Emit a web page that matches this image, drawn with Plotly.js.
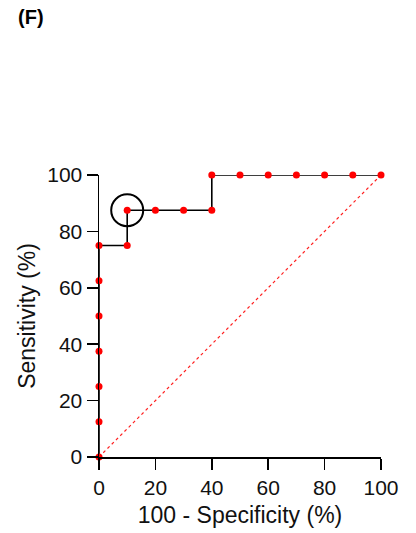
<!DOCTYPE html>
<html>
<head>
<meta charset="utf-8">
<script src="https://cdn.plot.ly/plotly-3.0.1.min.js"></script>
<style>html,body{margin:0;padding:0;background:#fff;}#chart{width:416px;height:533px;}</style>
</head>
<body>
<div id="chart"></div>
<script>
const specificity100 = [0, 0, 0, 0, 0, 0, 0, 10, 10, 20, 30, 40, 40, 50, 60, 70, 80, 90, 100];
const sensitivity = [0, 12.5, 25, 37.5, 50, 62.5, 75, 75, 87.5, 87.5, 87.5, 87.5, 100, 100, 100, 100, 100, 100, 100];
const diagX = [0, 100];
const diagY = [0, 100];
const tickVals = [0, 20, 40, 60, 80, 100];
const highlight = {x: 10, y: 87.5};

const traces = [
  {x: diagX, y: diagY, mode: 'lines', line: {color: '#ff2020', width: 1.2, dash: 'dot'}, hoverinfo: 'skip', cliponaxis: false},
  {x: specificity100, y: sensitivity, mode: 'lines+markers', line: {color: '#000000', width: 1.6},
   marker: {color: '#ff0000', size: 7}, cliponaxis: false}
];

const fam = 'Arial, Liberation Sans, sans-serif';
const tickFont = {family: fam, size: 21, color: '#111'};
const titleFont = {family: fam, size: 23, color: '#111'};
const layout = {
  width: 416, height: 533,
  margin: {l: 99, r: 35, t: 175, b: 76},
  paper_bgcolor: '#fff', plot_bgcolor: '#fff',
  showlegend: false,
  font: tickFont,
  xaxis: {range: [0, 100], tickvals: tickVals, ticks: 'outside', ticklen: 11, tickwidth: 1.5, tickcolor: '#000',
    showline: true, linecolor: '#000', linewidth: 1.5, showgrid: false, zeroline: false, tickfont: tickFont,
    title: {text: '100 - Specificity (%)', font: titleFont, standoff: 9}},
  yaxis: {range: [0, 100], tickvals: tickVals, ticks: 'outside', ticklen: 11, tickwidth: 1.5, tickcolor: '#000',
    showline: true, linecolor: '#000', linewidth: 1.5, showgrid: false, zeroline: false, tickfont: tickFont,
    title: {text: 'Sensitivity (%)', font: titleFont, standoff: 5}},
  annotations: [{text: '<b>(F)</b>', xref: 'paper', yref: 'paper', x: -0.295, y: 1.56, xanchor: 'left', yanchor: 'middle',
    showarrow: false, font: {family: fam, size: 20, color: '#000'}}],
  shapes: [{type: 'circle', xref: 'x', yref: 'y', xsizemode: 'pixel', ysizemode: 'pixel',
    xanchor: highlight.x, yanchor: highlight.y, x0: -16, x1: 16, y0: -16, y1: 16,
    line: {color: '#000', width: 2}}]
};
Plotly.newPlot('chart', traces, layout, {displayModeBar: false, staticPlot: true});
</script>
</body>
</html>
